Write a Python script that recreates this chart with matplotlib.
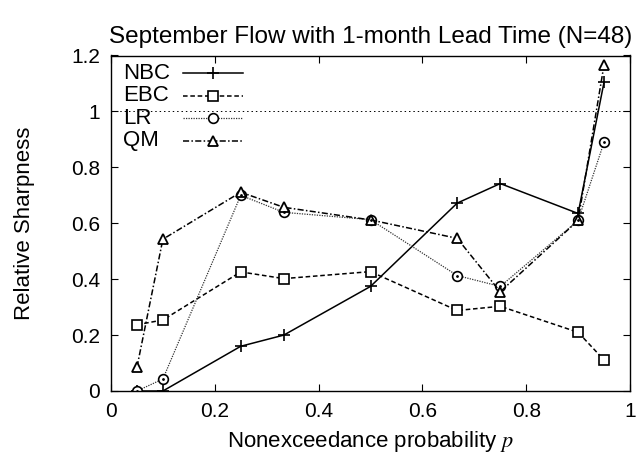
import matplotlib
matplotlib.use("Agg")
import matplotlib.pyplot as plt

plt.rcParams['font.family'] = ['Liberation Sans', 'DejaVu Sans']
plt.rcParams['mathtext.fontset'] = 'stix'

p = [0.05, 0.1, 0.25, 0.333, 0.5, 0.667, 0.75, 0.9, 0.95]
nbc = [0.0, 0.0, 0.16, 0.2, 0.374, 0.672, 0.742, 0.635, 1.105]
ebc = [0.237, 0.254, 0.426, 0.402, 0.427, 0.288, 0.303, 0.21, 0.111]
lr = [0.0, 0.043, 0.70, 0.639, 0.613, 0.413, 0.374, 0.61, 0.89]
qm = [0.085, 0.543, 0.711, 0.657, 0.612, 0.546, 0.355, 0.61, 1.167]
names = ["NBC", "EBC", "LR", "QM"]
title = "September Flow with 1-month Lead Time (N=48)"
xticks = [0, 0.2, 0.4, 0.6, 0.8, 1]
xticklabels = ["0", "0.2", "0.4", "0.6", "0.8", "1"]
yticks = [0, 0.2, 0.4, 0.6, 0.8, 1, 1.2]
yticklabels = ["0", "0.2", "0.4", "0.6", "0.8", "1", "1.2"]

fig = plt.figure(figsize=(6.38, 4.58), dpi=100)
ax = fig.add_axes([111/638, 1-391/458, (630-111)/638, (391-55.5)/458])

ax.axhline(1.0, color='black', lw=0.7, ls=(0, (1.5, 3)))

h1, = ax.plot(p, nbc, color='black', lw=1.1, ls='-', marker='+', ms=8, mew=1.2)
h2, = ax.plot(p, ebc, color='black', lw=1.1, ls=(0, (3, 1.8)), marker='s', ms=7,
              mfc='white', mew=1.2)
h3, = ax.plot(p, lr, color='#333333', lw=0.9, ls=(0, (1, 1)), marker='o', ms=7,
              mfc='white', mec='black', mew=1.2)
h4, = ax.plot(p, qm, color='black', lw=1.1, ls=(0, (4, 1.5, 1, 1.5)), marker='^', ms=7,
              mfc='white', mew=1.3)
# small center dots like gnuplot point types
ax.plot(p, lr, ls='none', marker='.', ms=2, color='black')

ax.set_xlim(0, 1)
ax.set_ylim(0, 1.2)
ax.set_xticks(xticks)
ax.set_xticklabels(xticklabels)
ax.set_yticks(yticks)
ax.set_yticklabels(yticklabels)
ax.tick_params(direction='in', length=5, width=0.8, top=True, right=True,
               labelsize=15, pad=8)
for s in ax.spines.values():
    s.set_linewidth(1.0)

ax.set_title(title, fontsize=17.5, pad=9)
ax.set_xlabel("Nonexceedance probability $p$", fontsize=16, labelpad=6)
ax.set_ylabel("Relative Sharpness", fontsize=16, labelpad=26)

leg = ax.legend([h1, h2, h3, h4], ['', '', '', ''], loc='upper left',
                bbox_to_anchor=(0.125, 0.985), frameon=False, handlelength=3.6,
                handletextpad=0, labelspacing=0.45, fontsize=12, borderaxespad=0)
fig.canvas.draw()
inv = ax.transAxes.inverted()
for hnd, name in zip(leg.legend_handles, names):
    bb = hnd.get_window_extent(fig.canvas.get_renderer())
    yc = (bb.y0 + bb.y1) / 2
    _, ya = inv.transform((0, yc))
    ax.text(0.023, ya, name, transform=ax.transAxes, fontsize=16, va='center', ha='left')

fig.savefig("out.png", dpi=100)
